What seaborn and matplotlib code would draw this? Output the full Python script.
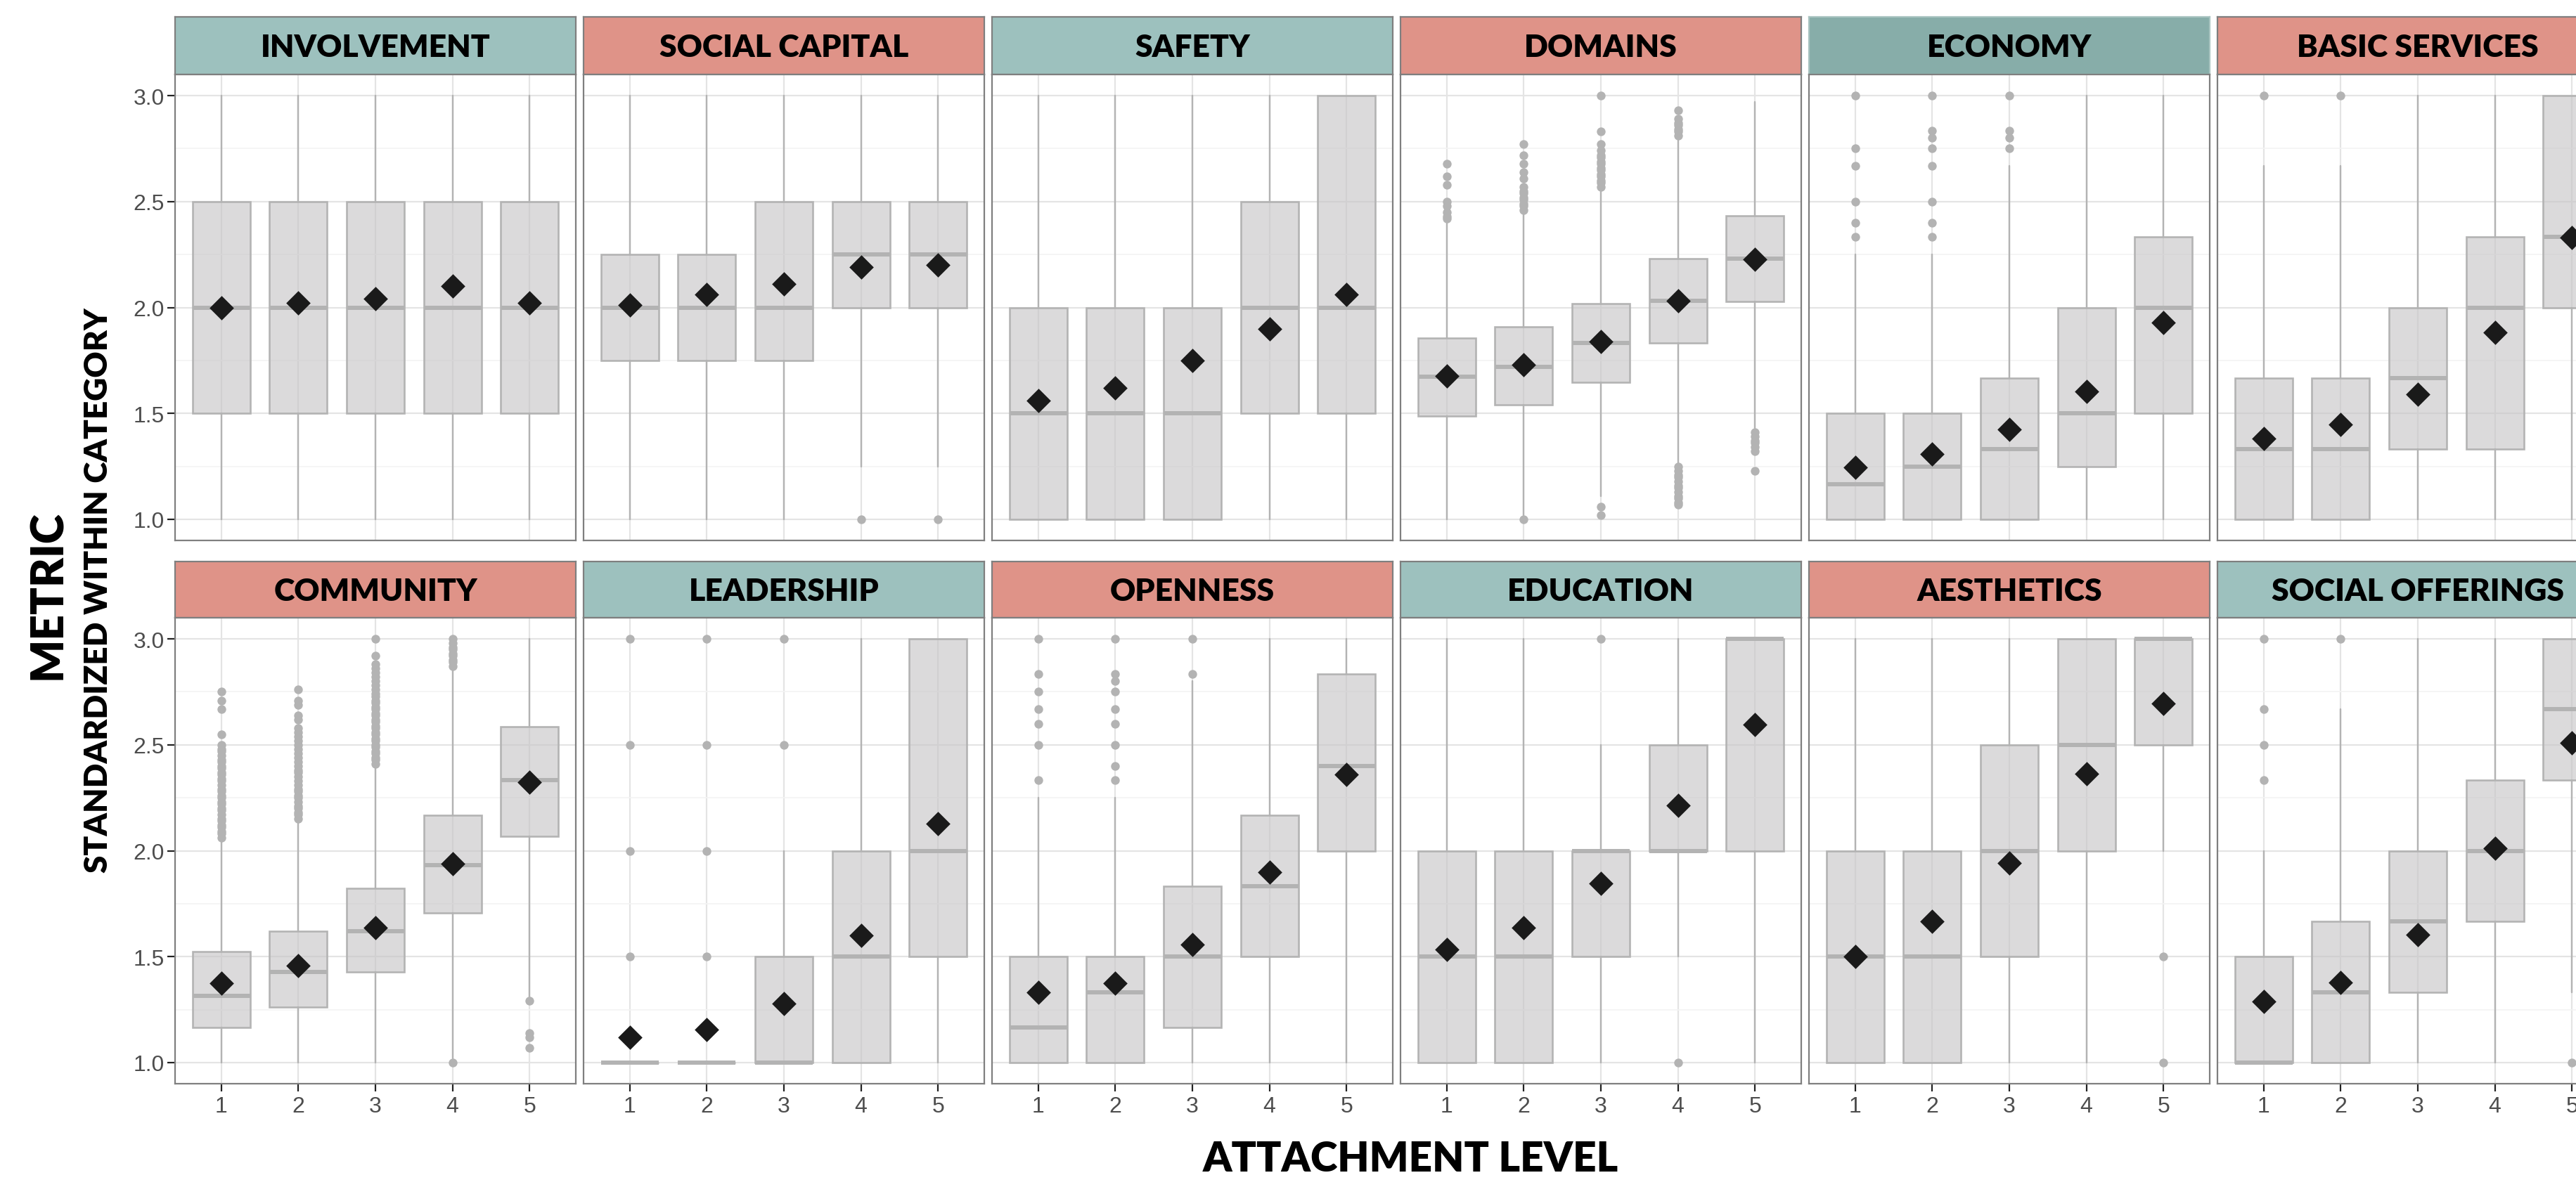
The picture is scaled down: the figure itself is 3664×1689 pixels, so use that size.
import matplotlib
matplotlib.use("Agg")
import matplotlib.pyplot as plt
from matplotlib.ticker import FixedLocator
from matplotlib.colors import to_rgba
import seaborn as sns
import pandas as pd

# ---------------------------------------------------------------------------
# Data: per-category box statistics for attachment levels 1..5
# ---------------------------------------------------------------------------
LEVELS = [1, 2, 3, 4, 5]

TOP_ROW = ["INVOLVEMENT", "SOCIAL CAPITAL", "SAFETY", "DOMAINS", "ECONOMY", "BASIC SERVICES"]
BOTTOM_ROW = ["COMMUNITY", "LEADERSHIP", "OPENNESS", "EDUCATION", "AESTHETICS", "SOCIAL OFFERINGS"]

STRIP_COLOR = {
    "INVOLVEMENT": "#9dc1be", "SOCIAL CAPITAL": "#df9388", "SAFETY": "#9dc1be",
    "DOMAINS": "#df9388", "ECONOMY": "#87ada9", "BASIC SERVICES": "#df9388",
    "COMMUNITY": "#df9388", "LEADERSHIP": "#9dc1be", "OPENNESS": "#df9388",
    "EDUCATION": "#9dc1be", "AESTHETICS": "#df9388", "SOCIAL OFFERINGS": "#9dc1be",
}

Q1 = {
    "INVOLVEMENT":      [1.5, 1.5, 1.5, 1.5, 1.5],
    "SOCIAL CAPITAL":   [1.75, 1.75, 1.75, 2.0, 2.0],
    "SAFETY":           [1.0, 1.0, 1.0, 1.5, 1.5],
    "DOMAINS":          [1.486, 1.541, 1.646, 1.834, 2.027],
    "ECONOMY":          [1.0, 1.0, 1.0, 1.25, 1.5],
    "BASIC SERVICES":   [1.0, 1.0, 1.333, 1.333, 2.0],
    "COMMUNITY":        [1.165, 1.262, 1.427, 1.706, 2.069],
    "LEADERSHIP":       [1.0, 1.0, 1.0, 1.0, 1.5],
    "OPENNESS":         [1.0, 1.0, 1.167, 1.5, 2.0],
    "EDUCATION":        [1.0, 1.0, 1.5, 2.0, 2.0],
    "AESTHETICS":       [1.0, 1.0, 1.5, 2.0, 2.5],
    "SOCIAL OFFERINGS": [1.0, 1.0, 1.333, 1.667, 2.333],
}

MEDIAN = {
    "INVOLVEMENT":      [2.0, 2.0, 2.0, 2.0, 2.0],
    "SOCIAL CAPITAL":   [2.0, 2.0, 2.0, 2.25, 2.25],
    "SAFETY":           [1.5, 1.5, 1.5, 2.0, 2.0],
    "DOMAINS":          [1.672, 1.721, 1.832, 2.032, 2.232],
    "ECONOMY":          [1.167, 1.25, 1.333, 1.5, 2.0],
    "BASIC SERVICES":   [1.333, 1.333, 1.667, 2.0, 2.333],
    "COMMUNITY":        [1.315, 1.427, 1.619, 1.931, 2.335],
    "LEADERSHIP":       [1.0, 1.0, 1.0, 1.5, 2.0],
    "OPENNESS":         [1.167, 1.333, 1.5, 1.833, 2.4],
    "EDUCATION":        [1.5, 1.5, 2.0, 2.0, 3.0],
    "AESTHETICS":       [1.5, 1.5, 2.0, 2.5, 3.0],
    "SOCIAL OFFERINGS": [1.0, 1.333, 1.667, 2.0, 2.667],
}

Q3 = {
    "INVOLVEMENT":      [2.5, 2.5, 2.5, 2.5, 2.5],
    "SOCIAL CAPITAL":   [2.25, 2.25, 2.5, 2.5, 2.5],
    "SAFETY":           [2.0, 2.0, 2.0, 2.5, 3.0],
    "DOMAINS":          [1.856, 1.910, 2.019, 2.230, 2.433],
    "ECONOMY":          [1.5, 1.5, 1.667, 2.0, 2.333],
    "BASIC SERVICES":   [1.667, 1.667, 2.0, 2.333, 3.0],
    "COMMUNITY":        [1.525, 1.621, 1.823, 2.167, 2.585],
    "LEADERSHIP":       [1.0, 1.0, 1.5, 2.0, 3.0],
    "OPENNESS":         [1.5, 1.5, 1.833, 2.167, 2.833],
    "EDUCATION":        [2.0, 2.0, 2.0, 2.5, 3.0],
    "AESTHETICS":       [2.0, 2.0, 2.5, 3.0, 3.0],
    "SOCIAL OFFERINGS": [1.5, 1.667, 2.0, 2.333, 3.0],
}

WHISKER_LOW = {
    "INVOLVEMENT":      [1.0, 1.0, 1.0, 1.0, 1.0],
    "SOCIAL CAPITAL":   [1.0, 1.0, 1.0, 1.25, 1.25],
    "SAFETY":           [1.0, 1.0, 1.0, 1.0, 1.0],
    "DOMAINS":          [1.0, 1.02, 1.11, 1.25, 1.43],
    "ECONOMY":          [1.0, 1.0, 1.0, 1.0, 1.0],
    "BASIC SERVICES":   [1.0, 1.0, 1.0, 1.0, 1.0],
    "COMMUNITY":        [1.0, 1.0, 1.0, 1.02, 1.30],
    "LEADERSHIP":       [1.0, 1.0, 1.0, 1.0, 1.0],
    "OPENNESS":         [1.0, 1.0, 1.0, 1.0, 1.0],
    "EDUCATION":        [1.0, 1.0, 1.0, 1.5, 1.0],
    "AESTHETICS":       [1.0, 1.0, 1.0, 1.0, 2.0],
    "SOCIAL OFFERINGS": [1.0, 1.0, 1.0, 1.0, 1.333],
}

WHISKER_HIGH = {
    "INVOLVEMENT":      [3.0, 3.0, 3.0, 3.0, 3.0],
    "SOCIAL CAPITAL":   [3.0, 3.0, 3.0, 3.0, 3.0],
    "SAFETY":           [3.0, 3.0, 3.0, 3.0, 3.0],
    "DOMAINS":          [2.40, 2.44, 2.56, 2.80, 2.97],
    "ECONOMY":          [2.25, 2.25, 2.667, 3.0, 3.0],
    "BASIC SERVICES":   [2.667, 2.667, 3.0, 3.0, 3.0],
    "COMMUNITY":        [2.05, 2.14, 2.40, 2.86, 3.0],
    "LEADERSHIP":       [1.0, 1.0, 2.0, 3.0, 3.0],
    "OPENNESS":         [2.25, 2.25, 2.8, 3.0, 3.0],
    "EDUCATION":        [3.0, 3.0, 2.5, 3.0, 3.0],
    "AESTHETICS":       [3.0, 3.0, 3.0, 3.0, 3.0],
    "SOCIAL OFFERINGS": [2.0, 2.667, 3.0, 3.0, 3.0],
}

MEAN = {
    "INVOLVEMENT":      [2.00, 2.02, 2.04, 2.10, 2.02],
    "SOCIAL CAPITAL":   [2.01, 2.06, 2.11, 2.19, 2.20],
    "SAFETY":           [1.56, 1.62, 1.75, 1.90, 2.06],
    "DOMAINS":          [1.677, 1.728, 1.838, 2.03, 2.227],
    "ECONOMY":          [1.245, 1.308, 1.423, 1.605, 1.93],
    "BASIC SERVICES":   [1.38, 1.449, 1.589, 1.883, 2.33],
    "COMMUNITY":        [1.373, 1.458, 1.635, 1.94, 2.323],
    "LEADERSHIP":       [1.119, 1.154, 1.279, 1.60, 2.129],
    "OPENNESS":         [1.331, 1.375, 1.558, 1.898, 2.36],
    "EDUCATION":        [1.533, 1.638, 1.846, 2.215, 2.594],
    "AESTHETICS":       [1.50, 1.667, 1.942, 2.365, 2.696],
    "SOCIAL OFFERINGS": [1.287, 1.378, 1.602, 2.013, 2.51],
}

# Outlying observations per category, one list per attachment level
OUTLIERS = {
    "SOCIAL CAPITAL": [[], [], [], [1.0], [1.0]],
    "DOMAINS": [
        [2.42, 2.43, 2.45, 2.48, 2.50, 2.58, 2.62, 2.68],
        [1.0, 2.46, 2.48, 2.49, 2.51, 2.52, 2.54, 2.55, 2.57, 2.61, 2.64, 2.68, 2.72, 2.77],
        [1.02, 1.06, 2.57, 2.59, 2.60, 2.62, 2.63, 2.65, 2.66, 2.68, 2.69, 2.71, 2.72,
         2.74, 2.77, 2.83, 3.0],
        [1.07, 1.08, 1.10, 1.11, 1.13, 1.15, 1.16, 1.18, 1.20, 1.21, 1.23, 1.25,
         2.81, 2.83, 2.84, 2.86, 2.87, 2.89, 2.93],
        [1.23, 1.32, 1.34, 1.36, 1.37, 1.39, 1.41],
    ],
    "ECONOMY": [
        [2.333, 2.4, 2.5, 2.667, 2.75, 3.0],
        [2.333, 2.4, 2.5, 2.667, 2.75, 2.8, 2.833, 3.0],
        [2.75, 2.8, 2.833, 3.0],
        [], [],
    ],
    "BASIC SERVICES": [[3.0], [3.0], [], [], []],
    "COMMUNITY": [
        [2.06, 2.08, 2.09, 2.11, 2.12, 2.14, 2.15, 2.17, 2.19, 2.20, 2.22, 2.23, 2.25,
         2.26, 2.28, 2.29, 2.31, 2.33, 2.34, 2.36, 2.37, 2.39, 2.40, 2.42, 2.43, 2.45,
         2.47, 2.48, 2.50, 2.55, 2.67, 2.71, 2.75],
        [2.15, 2.17, 2.18, 2.20, 2.21, 2.23, 2.25, 2.26, 2.28, 2.29, 2.31, 2.33, 2.35,
         2.37, 2.38, 2.40, 2.42, 2.44, 2.46, 2.48, 2.50, 2.52, 2.54, 2.56, 2.58, 2.62,
         2.64, 2.69, 2.71, 2.76],
        [2.41, 2.43, 2.44, 2.46, 2.47, 2.49, 2.50, 2.52, 2.53, 2.55, 2.56, 2.58, 2.59,
         2.61, 2.62, 2.64, 2.65, 2.67, 2.68, 2.70, 2.71, 2.73, 2.74, 2.76, 2.78, 2.80,
         2.82, 2.84, 2.86, 2.88, 2.92, 3.00],
        [1.0, 2.87, 2.89, 2.90, 2.92, 2.93, 2.95, 2.96, 2.98, 3.00],
        [1.07, 1.12, 1.14, 1.29],
    ],
    "LEADERSHIP": [[1.5, 2.0, 2.5, 3.0], [1.5, 2.0, 2.5, 3.0], [2.5, 3.0], [], []],
    "OPENNESS": [
        [2.333, 2.5, 2.6, 2.667, 2.75, 2.833, 3.0],
        [2.333, 2.4, 2.5, 2.6, 2.667, 2.75, 2.8, 2.833, 3.0],
        [2.833, 3.0],
        [], [],
    ],
    "EDUCATION": [[], [], [3.0], [1.0], []],
    "AESTHETICS": [[], [], [], [], [1.0, 1.5]],
    "SOCIAL OFFERINGS": [[2.333, 2.5, 2.667, 3.0], [3.0], [], [], [1.0]],
}

Y_TICKS = [1.0, 1.5, 2.0, 2.5, 3.0]
Y_TICK_LABELS = ["1.0", "1.5", "2.0", "2.5", "3.0"]
X_TICK_LABELS = ["1", "2", "3", "4", "5"]

# ---------------------------------------------------------------------------
# Styling
# ---------------------------------------------------------------------------
sns.set_theme(style="whitegrid")
plt.rcParams["font.family"] = ["Lato", "DejaVu Sans"]

W, H, DPI = 3664, 1690, 200
PX = 72.0 / DPI  # one pixel in points

BOX_FILL = to_rgba("#c6c4c6", 0.62)   # translucent fill, grid shows through
BOX_EDGE = "#b3b3b3"
BORDER = "#7f7f7f"
GRID_MAJOR = "#e4e4e4"
GRID_MINOR = "#f3f3f3"
TICK_TEXT = "#4d4d4d"

PANEL_LEFT0, PANEL_STEP, PANEL_W, PANEL_H = 249, 581, 570, 663
ROWS = [
    {"cats": TOP_ROW, "strip_top": 25, "strip_h": 82, "panel_top": 107},
    {"cats": BOTTOM_ROW, "strip_top": 800, "strip_h": 80, "panel_top": 880},
]

fig = plt.figure(figsize=(W / DPI, H / DPI), dpi=DPI)
fig.patch.set_facecolor("white")


def axes_px(x0, y0, w, h):
    """Add axes positioned in pixel units measured from the top-left corner."""
    return fig.add_axes([x0 / W, 1 - (y0 + h) / H, w / W, h / H])


for r, row in enumerate(ROWS):
    for c, cat in enumerate(row["cats"]):
        x0 = PANEL_LEFT0 + c * PANEL_STEP

        # ---- strip with the category name
        sax = axes_px(x0, row["strip_top"], PANEL_W, row["strip_h"])
        sax.set_facecolor(STRIP_COLOR[cat])
        sax.set_xticks([])
        sax.set_yticks([])
        sax.grid(False)
        edge = "#a9c4c1" if cat == "ECONOMY" else BORDER
        for sp in sax.spines.values():
            sp.set_visible(True)
            sp.set_color(edge)
            sp.set_linewidth(2.2 * PX)
        sax.text(0.5, 0.47, cat, transform=sax.transAxes, ha="center", va="center",
                 fontsize=16, fontweight="heavy", color="black")

        # ---- panel
        ax = axes_px(x0, row["panel_top"], PANEL_W, PANEL_H)
        ax.set_facecolor("white")
        ax.set_axisbelow(True)

        stats = []
        for i in range(len(LEVELS)):
            stats.append({
                "med": MEDIAN[cat][i], "q1": Q1[cat][i], "q3": Q3[cat][i],
                "whislo": WHISKER_LOW[cat][i], "whishi": WHISKER_HIGH[cat][i],
                "mean": MEAN[cat][i], "fliers": [],
            })
        ax.bxp(
            stats, positions=LEVELS, widths=0.75, patch_artist=True,
            showfliers=False, showcaps=False, showmeans=False,
            boxprops=dict(facecolor=BOX_FILL, edgecolor=BOX_EDGE, linewidth=2.6 * PX),
            whiskerprops=dict(color=BOX_EDGE, linewidth=2.4 * PX),
            medianprops=dict(color=BOX_EDGE, linewidth=6 * PX, solid_capstyle="butt"),
            zorder=2,
        )

        # outliers
        out_lists = OUTLIERS.get(cat, [[] for _ in LEVELS])
        ox, oy = [], []
        for lvl, vals in zip(LEVELS, out_lists):
            ox += [lvl] * len(vals)
            oy += vals
        if ox:
            sns.scatterplot(data=pd.DataFrame({"level": ox, "value": oy}),
                            x="level", y="value", ax=ax, color="#b3b3b3",
                            s=20, linewidth=0, zorder=3, legend=False)

        # group means as diamonds
        sns.scatterplot(data=pd.DataFrame({"level": LEVELS, "value": MEAN[cat]}),
                        x="level", y="value", ax=ax, marker="D", color="#1a1a1a",
                        s=78, linewidth=0, zorder=4, legend=False)

        ax.set_xlim(0.4, 5.6)
        ax.set_ylim(0.9, 3.1)
        ax.set_xlabel("")
        ax.set_ylabel("")

        ax.xaxis.set_major_locator(FixedLocator(LEVELS))
        ax.yaxis.set_major_locator(FixedLocator(Y_TICKS))
        ax.yaxis.set_minor_locator(FixedLocator([1.25, 1.75, 2.25, 2.75]))
        ax.grid(True, which="major", color=GRID_MAJOR, linewidth=2.2 * PX)
        ax.grid(True, which="minor", axis="y", color=GRID_MINOR, linewidth=1.6 * PX)
        ax.grid(False, which="minor", axis="x")

        for sp in ax.spines.values():
            sp.set_visible(True)
            sp.set_color(BORDER)
            sp.set_linewidth(2.2 * PX)

        ax.tick_params(axis="both", which="minor", length=0)
        ax.tick_params(axis="both", which="major", length=11 * PX, width=2.2 * PX,
                       color="#222222", labelcolor=TICK_TEXT, labelsize=11.5, pad=4 * PX)
        if c == 0:
            ax.set_yticklabels(Y_TICK_LABELS, family=["Liberation Sans", "DejaVu Sans"])
            ax.tick_params(axis="y", left=True)
        else:
            ax.tick_params(axis="y", left=False, labelleft=False)
        if r == 1:
            ax.set_xticklabels(X_TICK_LABELS, family=["Liberation Sans", "DejaVu Sans"])
            ax.tick_params(axis="x", bottom=True, pad=6 * PX)
        else:
            ax.tick_params(axis="x", bottom=False, labelbottom=False)

# ---- shared axis titles
fig.text(69 / W, 1 - 847 / H, "METRIC", rotation=90, ha="center", va="center",
         fontsize=23, fontweight="heavy", color="black")
fig.text(140 / W, 1 - 840 / H, "STANDARDIZED WITHIN CATEGORY", rotation=90,
         ha="center", va="center", fontsize=16.5, fontweight="heavy", color="black")
fig.text(2006 / W, 1 - 1650 / H, "ATTACHMENT LEVEL", ha="center", va="center",
         fontsize=21, fontweight="heavy", color="black")

fig.savefig("out.png", dpi=DPI, facecolor="white")
